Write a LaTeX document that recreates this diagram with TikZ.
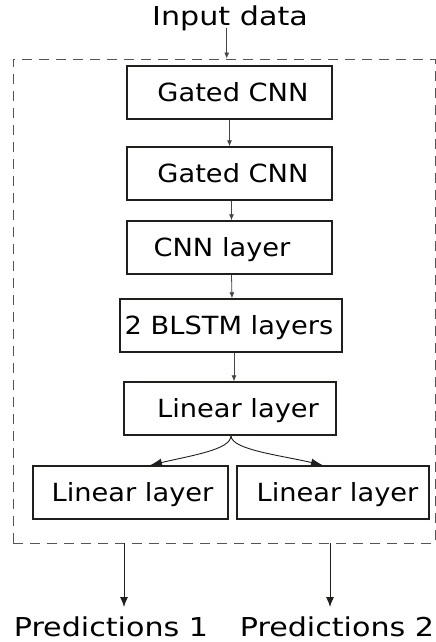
\documentclass[tikz,border=0pt]{standalone}
\usepackage{fontspec}
\setmainfont{DejaVu Sans}
\newfontfamily\boxfont{DejaVu Sans}[FakeStretch=1.09]
\newfontfamily\endfont{DejaVu Sans}[FakeStretch=1.16]
\usetikzlibrary{arrows.meta}
\definecolor{edge}{HTML}{1C211C}
\definecolor{wire}{HTML}{444444}
\definecolor{frameline}{HTML}{555555}
\begin{document}
\begin{tikzpicture}[x=1pt,y=-1pt,
  layerbox/.style={draw=edge,line width=1.4pt,inner sep=0pt,
    minimum height=53pt,text height=18.3pt,text depth=0pt,
    font=\boxfont\fontsize{25}{30}\selectfont},
  endlabel/.style={inner sep=0pt,anchor=base,
    font=\endfont\fontsize{26}{31}\selectfont},
  thinarrow/.style={draw=wire,line width=0.8pt,-{Latex[length=6pt,width=5pt]}},
  splitarrow/.style={draw=edge,line width=0.9pt,-{Latex[length=12pt,width=8pt]}},
  outarrow/.style={draw=edge,line width=0.9pt,-{Latex[length=10pt,width=8pt]}}]
\useasboundingbox (0,0) rectangle (436,642);

% outer dashed frame
\node[draw=frameline,line width=0.9pt,dash pattern=on 10pt off 7pt,
  minimum width=422pt,minimum height=484pt,inner sep=0pt] (frame) at (224,301) {};

% layer stack
\node[layerbox,minimum width=205pt] (g1) at (229.5,92.5) {\kern7pt Gated CNN};
\node[layerbox,minimum width=205pt] (g2) at (229.5,173.5) {\kern7pt Gated CNN};
\node[layerbox,minimum width=205pt] (cnn) at (229.5,247.5) {CNN layer\kern15pt};
\node[layerbox,minimum width=222pt] (lstm) at (231,325.5) {2 BLSTM layers\kern4pt};
\node[layerbox,minimum width=212pt] (lin) at (230,408.5) {\kern16pt Linear layer};
\node[layerbox,minimum width=195pt] (linA) at (130.5,492.5) {\kern4pt Linear layer};
\node[layerbox,minimum width=192pt] (linB) at (333,492.5) {\kern9pt Linear layer};

% input and outputs
\node[endlabel] (inp) at (230,26) {Input data};
\node[endlabel] (p1) at (111,636) {Predictions 1};
\node[endlabel] (p2) at (337,636) {Predictions 2};

% connectors
\draw[thinarrow] ([xshift=-3.3pt,yshift=-2pt]inp.base) -- ([xshift=-3.3pt]inp.base |- frame.north);
\draw[thinarrow] (g1.south) -- (g2.north);
\draw[thinarrow] ([xshift=2pt]g2.south) -- ([xshift=2pt]cnn.north);
\draw[thinarrow] ([xshift=2pt]cnn.south) -- ([xshift=1pt]lstm.north);
\draw[thinarrow] ([xshift=3pt]lstm.south) -- ([xshift=4pt]lin.north);
\draw[splitarrow] ([xshift=1pt]lin.south) .. controls +(0,14) and +(42,-10) .. ([xshift=19.5pt]linA.north);
\draw[splitarrow] ([xshift=1pt]lin.south) .. controls +(0,14) and +(-42,-10) .. ([xshift=-10pt]linB.north);
\coordinate (o1) at (124,543);
\coordinate (o2) at (330,543);
\draw[outarrow] (o1) -- (o1 |- 0,607);
\draw[outarrow] (o2) -- (o2 |- 0,607);
\end{tikzpicture}
\end{document}
